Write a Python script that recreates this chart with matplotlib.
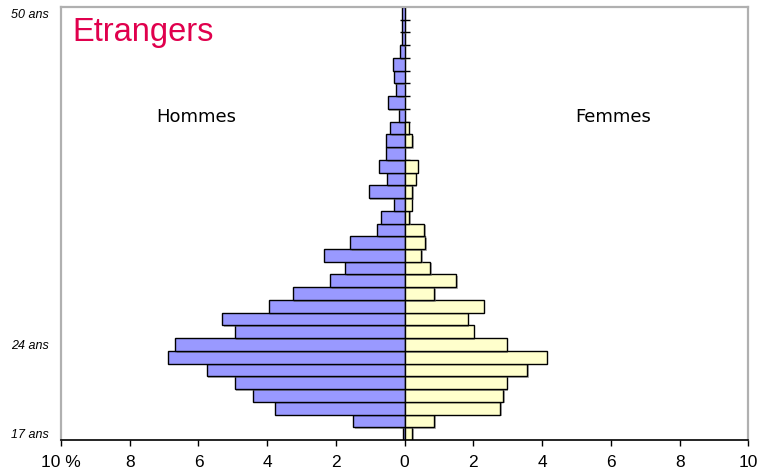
import numpy as np
import matplotlib
matplotlib.use("Agg")
import matplotlib.pyplot as plt
import matplotlib.patheffects as pe

plt.rcParams['font.family'] = ['Liberation Sans', 'DejaVu Sans']

# ages 17..50, share in %
ages = np.arange(17, 51)
hommes = [0.05, 1.50, 3.76, 4.42, 4.95, 5.76, 6.89, 6.68, 4.95, 5.31,
          3.96, 3.26, 2.17, 1.73, 2.35, 1.58, 0.80, 0.69, 0.30, 1.05,
          0.52, 0.76, 0.53, 0.54, 0.43, 0.17, 0.49, 0.24, 0.32, 0.35,
          0.15, 0.08, 0.08, 0.08]
femmes = [0.22, 0.86, 2.77, 2.86, 2.97, 3.57, 4.13, 2.97, 2.01, 1.83,
          2.30, 0.86, 1.50, 0.74, 0.49, 0.60, 0.56, 0.13, 0.20, 0.21,
          0.32, 0.38, 0.0, 0.21, 0.12, 0.0, 0.0, 0.0, 0.0, 0.0,
          0.0, 0.0, 0.0, 0.0]
xticks = [-10, -8, -6, -4, -2, 0, 2, 4, 6, 8, 10]
xlabels = ['10 %', '8', '6', '4', '2', '0', '2', '4', '6', '8', '10']
yticks = [17, 24, 50]
ylabels = ['17 ans', '24 ans', '50 ans']

fig = plt.figure(figsize=(7.71, 4.74), dpi=100)
ax = fig.add_axes([0.0791, 0.0717, 0.8915, 0.9135])

shadow = [pe.SimplePatchShadow(offset=(1.2, -1.2), shadow_rgbFace='0.4', alpha=0.5), pe.Normal()]
bh = ax.barh(ages, -np.array(hommes), height=1.0, color='#9999ff',
             edgecolor='black', linewidth=1.0)
bf = ax.barh(ages, femmes, height=1.0, color='#ffffcc',
             edgecolor='black', linewidth=1.0)
for b in list(bh) + list(bf):
    if b.get_width() != 0:
        b.set_path_effects(shadow)
    else:
        b.set_visible(False)

ax.set_xlim(-10, 10)
ax.set_ylim(16.5, 50.5)

ax.set_xticks(xticks)
ax.set_xticklabels(xlabels, fontsize=12.5)
ax.tick_params(axis='x', direction='out', length=4, width=1, pad=7)

ax.set_yticks(yticks)
ax.set_yticklabels(ylabels, fontsize=9, style='italic')
ax.tick_params(axis='y', length=0, pad=9)

for s in ['left', 'top', 'right']:
    ax.spines[s].set_color('#b0b0b0')
    ax.spines[s].set_linewidth(1.6)
ax.spines['bottom'].set_color('black')
ax.spines['bottom'].set_linewidth(1.2)

# central axis with a tick at each age boundary
sec = ax.secondary_yaxis(0.5)
sec.set_yticks(ages[:-1] + 0.5)
sec.set_yticklabels([])
sec.tick_params(direction='inout', length=7, width=1, color='black')
sec.spines['left'].set_color('black')
sec.spines['left'].set_linewidth(1.6)

ax.text(0.016, 0.94, 'Etrangers', transform=ax.transAxes, fontsize=23.5,
        color='#e0004d', ha='left', va='center')
ax.text(0.197, 0.746, 'Hommes', transform=ax.transAxes, fontsize=13,
        family=['DejaVu Sans'], ha='center', va='center')
ax.text(0.803, 0.746, 'Femmes', transform=ax.transAxes, fontsize=13,
        family=['DejaVu Sans'], ha='center', va='center')

fig.savefig('out.png', dpi=100)
